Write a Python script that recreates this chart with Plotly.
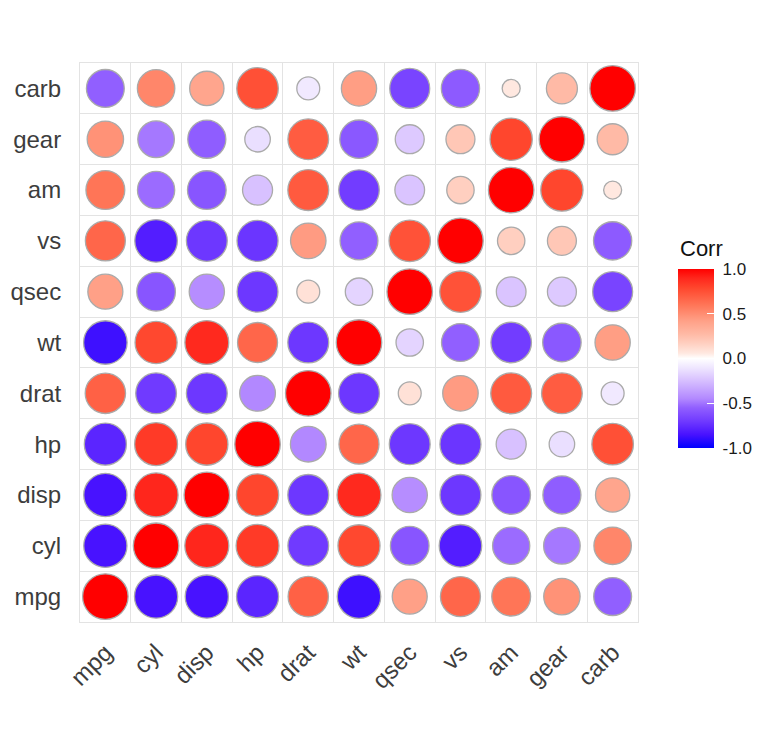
import numpy as np
import plotly.graph_objects as go

# mtcars correlation matrix (rounded to 2 digits)
variables = ["mpg", "cyl", "disp", "hp", "drat", "wt", "qsec", "vs", "am", "gear", "carb"]

mpg = [1.00, -0.85, -0.85, -0.78, 0.68, -0.87, 0.42, 0.66, 0.60, 0.48, -0.55]
cyl = [-0.85, 1.00, 0.90, 0.83, -0.70, 0.78, -0.59, -0.81, -0.52, -0.49, 0.53]
disp = [-0.85, 0.90, 1.00, 0.79, -0.71, 0.89, -0.43, -0.71, -0.59, -0.56, 0.39]
hp = [-0.78, 0.83, 0.79, 1.00, -0.45, 0.66, -0.71, -0.72, -0.24, -0.13, 0.75]
drat = [0.68, -0.70, -0.71, -0.45, 1.00, -0.71, 0.09, 0.44, 0.71, 0.70, -0.09]
wt = [-0.87, 0.78, 0.89, 0.66, -0.71, 1.00, -0.17, -0.55, -0.69, -0.58, 0.43]
qsec = [0.42, -0.59, -0.43, -0.71, 0.09, -0.17, 1.00, 0.74, -0.23, -0.21, -0.66]
vs = [0.66, -0.81, -0.71, -0.72, 0.44, -0.55, 0.74, 1.00, 0.17, 0.21, -0.57]
am = [0.60, -0.52, -0.59, -0.24, 0.71, -0.69, -0.23, 0.17, 1.00, 0.79, 0.06]
gear = [0.48, -0.49, -0.56, -0.13, 0.70, -0.58, -0.21, 0.21, 0.79, 1.00, 0.27]
carb = [-0.55, 0.53, 0.39, 0.75, -0.09, 0.43, -0.66, -0.57, 0.06, 0.27, 1.00]

rows = [mpg, cyl, disp, hp, drat, wt, qsec, vs, am, gear, carb]

colorbar_ticks = [1.0, 0.5, 0.0, -0.5, -1.0]

# blue - white - red diverging scale (matched to the reference)
colorscale = [
    [0.000, "rgb(0,0,255)"],
    [0.075, "rgb(72,18,255)"],
    [0.150, "rgb(112,58,255)"],
    [0.225, "rgb(145,95,255)"],
    [0.275, "rgb(178,136,255)"],
    [0.385, "rgb(218,196,255)"],
    [0.440, "rgb(236,226,255)"],
    [0.500, "rgb(255,255,255)"],
    [0.530, "rgb(255,232,224)"],
    [0.585, "rgb(255,207,192)"],
    [0.635, "rgb(255,186,166)"],
    [0.710, "rgb(255,160,135)"],
    [0.800, "rgb(255,117,87)"],
    [0.895, "rgb(255,70,45)"],
    [0.950, "rgb(255,38,28)"],
    [1.000, "rgb(255,0,0)"],
]

xs, ys, vals = [], [], []
for i, row_name in enumerate(variables):
    for j, col_name in enumerate(variables):
        xs.append(col_name)
        ys.append(row_name)
        vals.append(rows[i][j])
vals = np.array(vals)

# circle area scaled between size 4 and 10 (ggplot scale_size)
a = np.abs(vals)
frac = (a - a.min()) / (a.max() - a.min())
sizes = 18 + 27.5 * np.sqrt(frac)

fig = go.Figure()
fig.add_trace(go.Scatter(
    x=xs, y=ys, mode="markers",
    marker=dict(
        size=sizes, color=vals, colorscale=colorscale, cmin=-1, cmax=1,
        opacity=1,
        line=dict(color="#AAAAAA", width=1.3),
        colorbar=dict(
            tickvals=colorbar_ticks,
            ticktext=["\u00a0" + f"{t:.1f}" for t in colorbar_ticks],
            ticks="inside", ticklen=7, tickcolor="white",
            tickfont=dict(size=17, color="#1a1a1a"),
            outlinewidth=0, thickness=36, xpad=0, ypad=0,
            len=179, lenmode="pixels",
            x=1.0717, xanchor="left", y=0.4714, yanchor="middle",
        ),
    ),
    showlegend=False,
    hoverinfo="x+y+text", text=[f"{v:.2f}" for v in vals],
))

axis_common = dict(
    type="category", categoryorder="array", categoryarray=variables,
    tickson="boundaries", showgrid=True, gridcolor="#E3E3E3", gridwidth=1,
    showline=True, linecolor="#E3E3E3", mirror=True, ticks="",
    zeroline=False, automargin=False,
    tickfont=dict(size=24, color="#3d3d3d"),
)

# page body has an 8px margin, so shift the plot up/left by that
fig.update_layout(
    width=780, height=750,
    margin=dict(l=72, r=150, t=55, b=136),
    plot_bgcolor="white", paper_bgcolor="white",
    font=dict(family="Liberation Sans, Arial, sans-serif"),
    xaxis=dict(axis_common, tickangle=-45, range=[-0.5, 10.5], ticklabelstandoff=6),
    yaxis=dict(axis_common, range=[-0.5, 10.5], ticklabelstandoff=13),
    annotations=[dict(
        text="Corr", xref="paper", yref="paper", x=1.0717, y=0.669,
        xanchor="left", yanchor="middle", showarrow=False,
        font=dict(size=22, color="#111111"),
    )],
)

fig.write_html("out.html")
